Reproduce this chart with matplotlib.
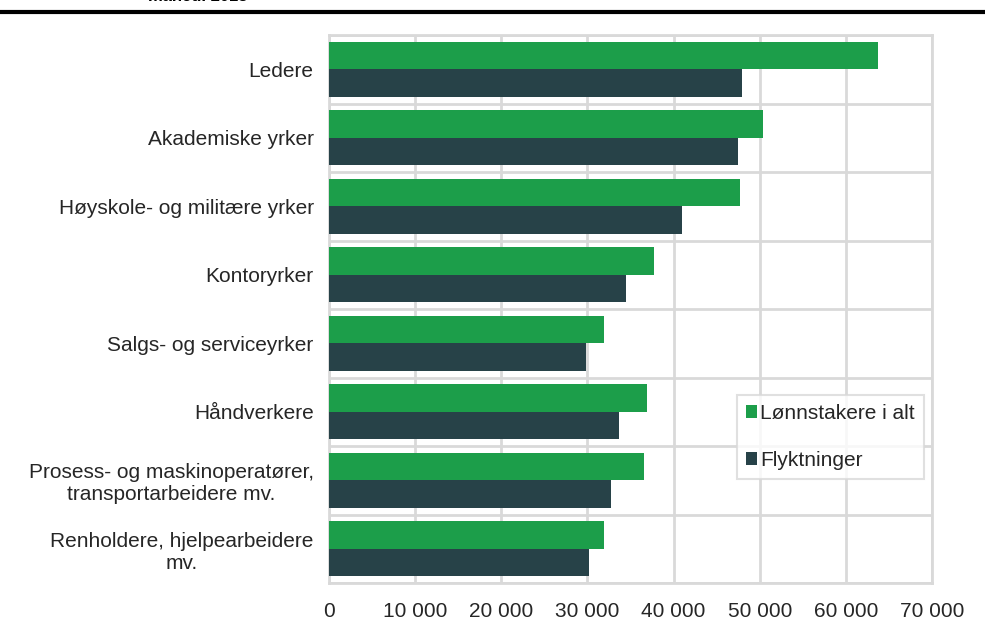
import matplotlib
matplotlib.use("Agg")
import matplotlib.pyplot as plt
from matplotlib.ticker import FuncFormatter
import numpy as np

plt.rcParams['font.family'] = ['Liberation Sans', 'DejaVu Sans']

categories = ["Ledere", "Akademiske yrker", "Høyskole- og militære yrker", "Kontoryrker",
              "Salgs- og serviceyrker", "Håndverkere",
              "Prosess- og maskinoperatører,\ntransportarbeidere mv.",
              "Renholdere, hjelpearbeidere\nmv."]
lonnstakere = [63700, 50400, 47700, 37700, 31900, 36900, 36600, 31900]
flyktninger = [47900, 47500, 41000, 34500, 29800, 33700, 32700, 30200]
series_names = ["Lønnstakere i alt", "Flyktninger"]
xticks = [0, 10000, 20000, 30000, 40000, 50000, 60000, 70000]

green = "#1c9e4a"
dark = "#274248"
gridc = "#d9d9d9"
txtc = "#262626"
fs = 15

fig = plt.figure(figsize=(9.85, 6.3), dpi=100)
ax = fig.add_axes([329/985, 1-583/630, (932-329)/985, (583-35)/630])

n = len(categories)
y = np.arange(n)
h = 0.4
ax.barh(y - h/2, lonnstakere, height=h, color=green, label=series_names[0], zorder=3)
ax.barh(y + h/2, flyktninger, height=h, color=dark, label=series_names[1], zorder=3)

ax.set_ylim(n - 0.5, -0.5)
ax.set_xlim(0, 70000)
ax.set_xticks(xticks)
ax.xaxis.set_major_formatter(FuncFormatter(lambda v, p: f"{int(v):,}".replace(",", " ")))
ax.set_yticks(y)
ax.set_yticklabels(categories, multialignment='center')
ax.tick_params(axis='y', length=0, pad=11, labelsize=fs, colors=txtc)
ax.tick_params(axis='x', length=0, pad=14, labelsize=fs, colors=txtc)

ax.set_yticks(np.arange(-0.5, n, 1), minor=True)
ax.grid(axis='x', which='major', color=gridc, lw=2, zorder=0)
ax.grid(axis='y', which='minor', color=gridc, lw=2, zorder=0)
ax.tick_params(axis='y', which='minor', length=0)
for s in ax.spines.values():
    s.set_color(gridc)
    s.set_linewidth(2)

leg = ax.legend(loc='upper left', bbox_to_anchor=(737/985, 1-395/630), bbox_transform=fig.transFigure,
                frameon=True, fancybox=False, edgecolor=gridc, fontsize=fs,
                handlelength=0.55, handleheight=0.55, handletextpad=0.15, labelspacing=1.35,
                borderpad=0.42, borderaxespad=0)
leg.get_frame().set_linewidth(1.5)
for t in leg.get_texts():
    t.set_color(txtc)

fig.add_artist(plt.Line2D([0, 1], [1-12/630, 1-12/630], color='black', lw=3, transform=fig.transFigure))
fig.text(148/985, 1-1/630, "måned. 2018", fontsize=12, fontweight='bold', va='baseline', ha='left')

fig.savefig("out.png", dpi=100)
